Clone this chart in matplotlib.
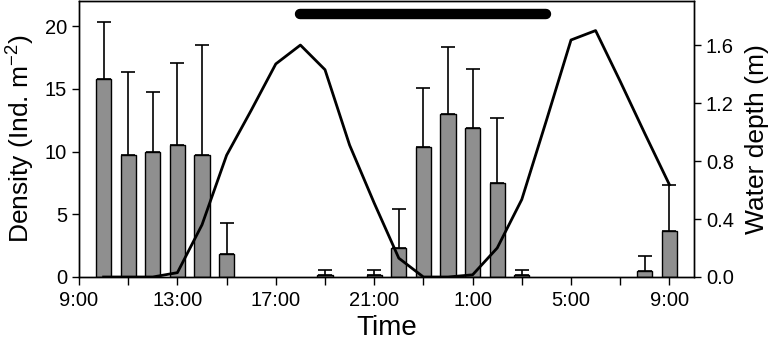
import matplotlib
matplotlib.use("Agg")
import matplotlib.pyplot as plt
from matplotlib.ticker import FixedLocator
import numpy as np

plt.rcParams['font.family'] = ['Liberation Sans', 'DejaVu Sans']
plt.rcParams['mathtext.default'] = 'regular'

# hours since 9:00
bar_hours = [1, 2, 3, 4, 5, 6, 10, 12, 13, 14, 15, 16, 17, 18, 23, 24]
density = [15.8, 9.7, 10.0, 10.5, 9.7, 1.8, 0.13, 0.13, 2.35, 10.35, 13.0, 11.85, 7.5, 0.13, 0.45, 3.7]
density_err = [4.5, 6.65, 4.75, 6.55, 8.8, 2.5, 0.43, 0.43, 3.1, 4.75, 5.3, 4.7, 5.15, 0.43, 1.25, 3.65]

depth_hours = [1, 2, 3, 4, 5, 6, 7, 8, 9, 10, 11, 12, 13, 14, 15, 16, 17, 18, 19, 20, 21, 22, 23, 24]
depth = [0.0, 0.0, 0.0, 0.03, 0.36, 0.84, 1.15, 1.47, 1.60, 1.43, 0.91, 0.51, 0.13, 0.0, 0.0,
         0.015, 0.2, 0.535, 1.08, 1.635, 1.70, 1.35, 0.99, 0.637]

night_start, night_end = 9, 19
xtick_pos = [0, 4, 8, 12, 16, 20, 24]
xtick_labels = ['9:00', '13:00', '17:00', '21:00', '1:00', '5:00', '9:00']

fig = plt.figure(figsize=(7.74, 3.46), dpi=100)
ax = fig.add_axes([79/774, 69/346, (694-79)/774, 276/346])
ax2 = ax.twinx()

ax.bar(bar_hours, density, width=0.62, color='#8f8f8f', edgecolor='black', linewidth=1.0, zorder=2)
ax.errorbar(bar_hours, density, yerr=[np.zeros(len(density_err)), density_err], fmt='none',
            ecolor='black', elinewidth=1.2, capsize=5, capthick=1.2, zorder=1)
ax.plot([night_start, night_end], [21.0, 21.0], color='black', linewidth=7.5, solid_capstyle='round')

ax2.plot(depth_hours, depth, color='black', linewidth=2.0)

ax.set_xlim(0, 25)
ax.set_ylim(0, 22)
ax2.set_ylim(0, 1.904)
ax.set_xticks(xtick_pos)
ax.set_xticklabels(xtick_labels)
ax.xaxis.set_minor_locator(FixedLocator([2, 6, 10, 14, 18, 22]))
ax.set_yticks([0, 5, 10, 15, 20])
ax2.set_yticks([0, 0.4, 0.8, 1.2, 1.6])
ax2.set_yticklabels(['0.0', '0.4', '0.8', '1.2', '1.6'])

for a in (ax, ax2):
    a.tick_params(axis='both', which='both', direction='out', length=5, width=1.0, labelsize=14.5)
    for s in a.spines.values():
        s.set_linewidth(1.0)
ax.tick_params(axis='x', which='both', length=6, pad=4)

ax.set_xlabel('Time', fontsize=20, labelpad=4)
ax.set_ylabel('Density (Ind. m$^{-2}$)', fontsize=19, labelpad=6)
ax2.set_ylabel('Water depth (m)', fontsize=19, labelpad=8)

fig.savefig('out.png', dpi=100)
